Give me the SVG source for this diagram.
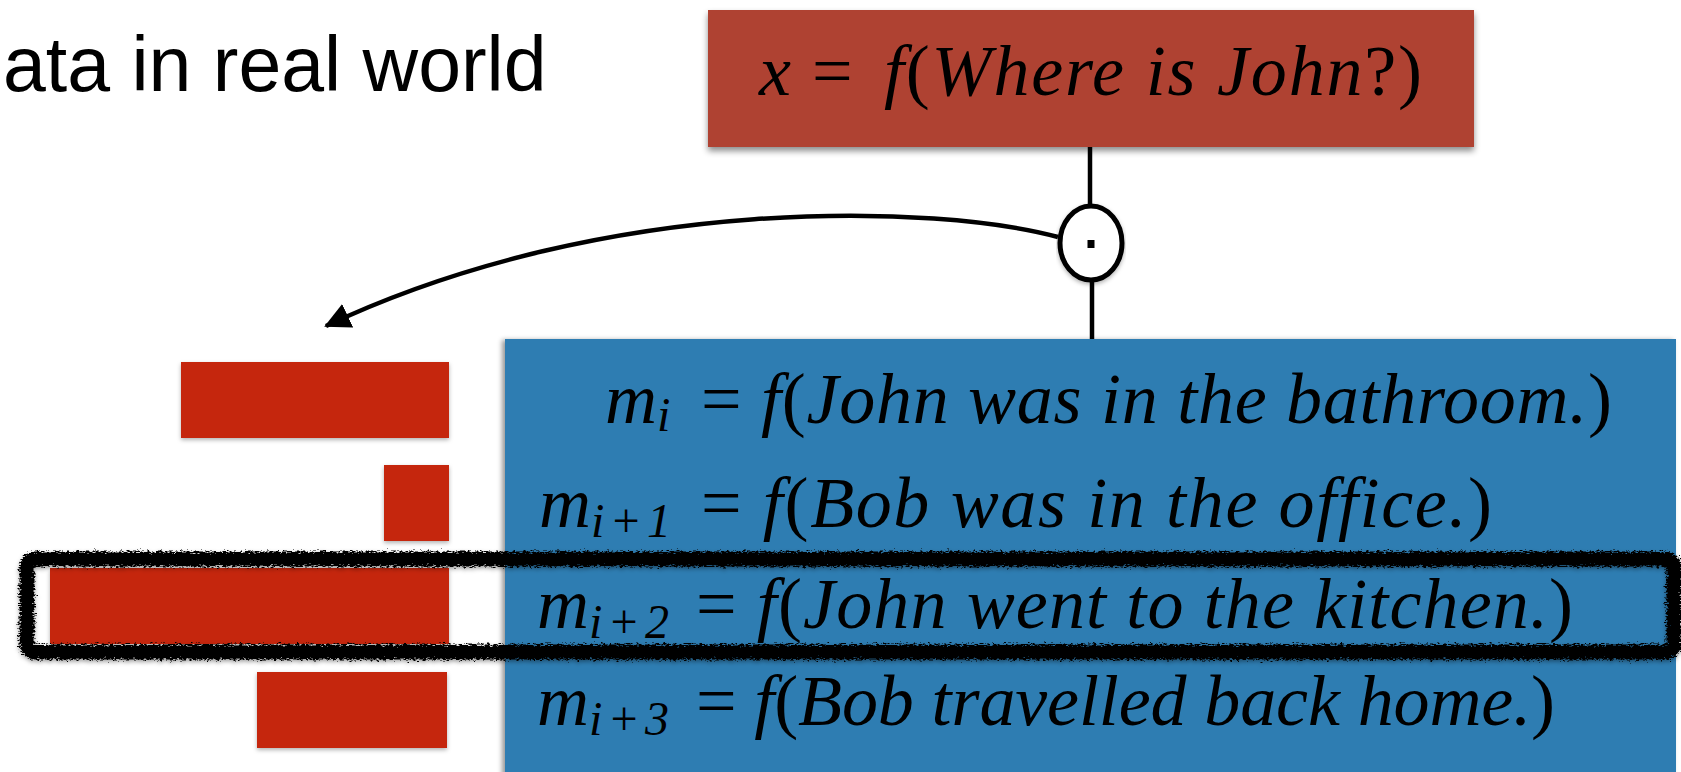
<svg xmlns="http://www.w3.org/2000/svg" width="1681" height="772" viewBox="0 0 1681 772">
<style>
.title{font-family:"Liberation Sans",Arial,sans-serif;font-size:77px;fill:#000}
.math{font-family:"Liberation Serif","Times New Roman",serif;font-size:72px;fill:#000}
.it{font-style:italic}
.sub{font-size:48px}
.bar{fill:#C5260A;filter:url(#barShadow)}
.wire{stroke:#000;stroke-width:4.5;fill:none}
</style>
<defs>
<filter id="boxShadow" x="-5%" y="-10%" width="110%" height="125%">
<feDropShadow dx="0" dy="4" stdDeviation="3" flood-color="#000" flood-opacity="0.45"/>
</filter>
<filter id="blueShadow" x="-5%" y="-5%" width="110%" height="110%">
<feDropShadow dx="-3" dy="1" stdDeviation="2.5" flood-color="#000" flood-opacity="0.4"/>
</filter>
<filter id="barShadow" x="-5%" y="-10%" width="110%" height="130%">
<feDropShadow dx="0" dy="2" stdDeviation="2" flood-color="#000" flood-opacity="0.3"/>
</filter>
<filter id="rough" x="-3%" y="-25%" width="106%" height="150%">
<feTurbulence type="fractalNoise" baseFrequency="0.3 0.9" numOctaves="3" seed="5" result="n"/>
<feDisplacementMap in="SourceGraphic" in2="n" scale="9" xChannelSelector="R" yChannelSelector="G" result="d"/>
<feDropShadow dx="0" dy="2" stdDeviation="2" flood-color="#000" flood-opacity="0.4"/>
</filter>
<marker id="arrow" viewBox="0 0 26 26" markerWidth="26" markerHeight="26" refX="24" refY="13" orient="auto" markerUnits="userSpaceOnUse">
<path d="M0,0 L26,13 L0,26 z" fill="#000"/>
</marker>
</defs>
<rect width="1681" height="772" fill="#fff"/>

<g id="title">
<text class="title" x="3" y="91">ata in real world</text>
</g>

<g id="connectors">
<line class="wire" x1="1090" y1="146" x2="1090" y2="207"/>
<line class="wire" x1="1092" y1="279" x2="1092" y2="340"/>
<path class="wire" stroke-width="5.5" d="M1058,237 C940,205 610,192 326,326" marker-end="url(#arrow)"/>
</g>

<g id="query">
<rect x="708" y="10" width="766" height="137" fill="#AF4232" filter="url(#boxShadow)"/>
<text class="math it" x="759" y="95">x</text>
<text class="math" x="812" y="95">=</text>
<text class="math" x="884" y="95" textLength="538" lengthAdjust="spacing"><tspan class="it">f</tspan>(<tspan class="it">Where is John</tspan>?)</text>
</g>

<g id="dot-product">
<ellipse cx="1091" cy="243" rx="31" ry="37" fill="#fff" stroke="#000" stroke-width="5" filter="url(#barShadow)"/>
<rect x="1087.5" y="240" width="7" height="8" fill="#000"/>
</g>

<g id="memory">
<rect x="505" y="339" width="1171" height="440" fill="#2D7DB2" filter="url(#blueShadow)"/>
<text class="math it" x="605" y="423">m<tspan class="sub" dy="8">i</tspan></text>
<text class="math" x="701" y="423" textLength="911" lengthAdjust="spacing">= <tspan class="it">f</tspan>(<tspan class="it">John was in the bathroom.</tspan>)</text>
<text class="math it" x="539" y="527">m<tspan class="sub" dy="10" textLength="80" lengthAdjust="spacing">i+1</tspan></text>
<text class="math" x="701" y="527" textLength="791" lengthAdjust="spacing">= <tspan class="it">f</tspan>(<tspan class="it">Bob was in the office.</tspan>)</text>
<text class="math it" x="537" y="628">m<tspan class="sub" dy="10" textLength="80" lengthAdjust="spacing">i+2</tspan></text>
<text class="math" x="696" y="628" textLength="877" lengthAdjust="spacing">= <tspan class="it">f</tspan>(<tspan class="it">John went to the kitchen.</tspan>)</text>
<text class="math it" x="537" y="725">m<tspan class="sub" dy="10" textLength="80" lengthAdjust="spacing">i+3</tspan></text>
<text class="math" x="696" y="725" textLength="859" lengthAdjust="spacing">= <tspan class="it">f</tspan>(<tspan class="it">Bob travelled back home.</tspan>)</text>
</g>

<g id="attention">
<rect class="bar" x="181" y="362" width="268" height="76"/>
<rect class="bar" x="384" y="465" width="65" height="76"/>
<rect class="bar" x="50" y="568" width="399" height="76"/>
<rect class="bar" x="257" y="672" width="190" height="76"/>
</g>

<g id="highlight">
<rect x="27" y="559" width="1647" height="93" rx="8" fill="none" stroke="#000" stroke-width="15" filter="url(#rough)"/>
</g>
</svg>
